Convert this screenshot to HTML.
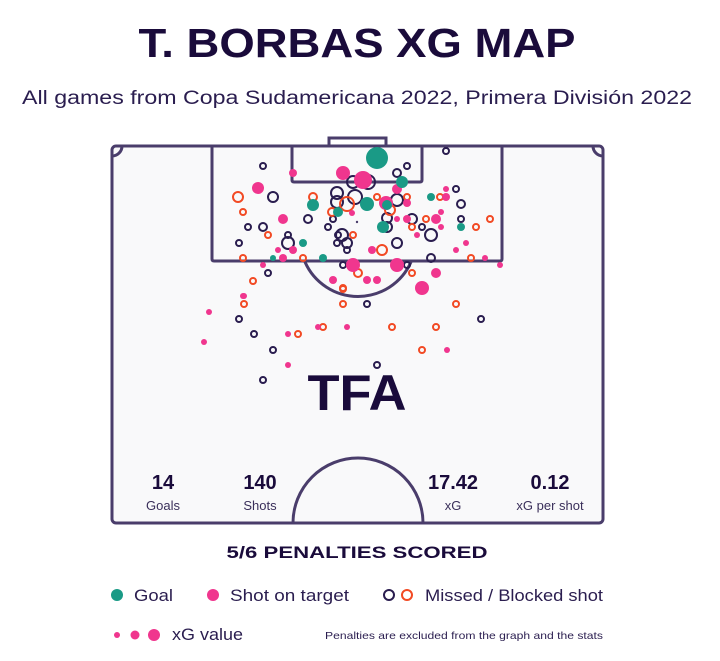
<!DOCTYPE html>
<html><head><meta charset="utf-8"><style>
html,body{margin:0;padding:0;background:#fff;}
svg{display:block;font-family:"Liberation Sans",sans-serif;}
</style></head><body>
<svg width="720" height="661" viewBox="0 0 720 661" xmlns="http://www.w3.org/2000/svg">
<text x="357" y="57" text-anchor="middle" font-size="41" font-weight="bold" fill="#1a0b3b" textLength="437" lengthAdjust="spacingAndGlyphs">T. BORBAS XG MAP</text>
<text x="357" y="104" text-anchor="middle" font-size="19" fill="#2a1d4f" textLength="670" lengthAdjust="spacingAndGlyphs">All games from Copa Sudamericana 2022, Primera División 2022</text>
<g fill="none" stroke="#4a3d6b" stroke-width="3">
<rect x="112" y="146" width="491" height="377" rx="4" fill="#f9f9fa"/>
<path d="M329 146 V138 H386 V146"/>
<path d="M212 146 V259 Q212 261 214 261 H500 Q502 261 502 259 V146"/>
<path d="M292 146 V180 Q292 182 294 182 H420 Q422 182 422 180 V146"/>
<path d="M305 262 A58 58 0 0 0 411 262"/>
<path d="M293 523 A65 65 0 0 1 423 523"/>
<path d="M112 156 A10 10 0 0 0 122 146"/>
<path d="M593 146 A10 10 0 0 0 603 156"/>
</g>
<circle cx="357" cy="222" r="1.2" fill="#4a3d6b"/>
<g stroke="#2a1d4f" stroke-width="2" fill="none">
<circle cx="446" cy="151" r="3"/><circle cx="263" cy="166" r="3"/><circle cx="407" cy="166" r="3"/><circle cx="397" cy="173" r="4"/>
<circle cx="368" cy="182" r="7"/><circle cx="353" cy="182" r="6"/><circle cx="337" cy="193" r="6"/><circle cx="355" cy="197" r="7"/>
<circle cx="337" cy="202" r="6"/><circle cx="273" cy="197" r="5"/><circle cx="456" cy="189" r="3"/><circle cx="461" cy="204" r="4"/>
<circle cx="397" cy="200" r="6"/><circle cx="308" cy="219" r="4"/><circle cx="333" cy="219" r="3"/><circle cx="387" cy="218" r="5"/>
<circle cx="412" cy="219" r="5"/><circle cx="461" cy="219" r="3"/><circle cx="248" cy="227" r="3"/><circle cx="263" cy="227" r="4"/>
<circle cx="328" cy="227" r="3"/><circle cx="387" cy="227" r="5"/><circle cx="422" cy="227" r="3"/><circle cx="288" cy="235" r="3"/>
<circle cx="288" cy="243" r="6"/><circle cx="342" cy="235" r="6"/><circle cx="347" cy="243" r="5"/><circle cx="338" cy="235" r="3"/>
<circle cx="239" cy="243" r="3"/><circle cx="337" cy="243" r="3"/><circle cx="397" cy="243" r="5"/><circle cx="431" cy="235" r="6"/>
<circle cx="347" cy="250" r="3"/><circle cx="431" cy="258" r="4"/><circle cx="343" cy="265" r="3"/><circle cx="268" cy="273" r="3"/>
<circle cx="407" cy="265" r="3"/><circle cx="239" cy="319" r="3"/><circle cx="254" cy="334" r="3"/><circle cx="367" cy="304" r="3"/>
<circle cx="481" cy="319" r="3"/><circle cx="273" cy="350" r="3"/><circle cx="263" cy="380" r="3"/><circle cx="377" cy="365" r="3"/>
</g>
<g stroke="#f24a24" stroke-width="2" fill="none">
<circle cx="238" cy="197" r="5"/><circle cx="243" cy="212" r="3"/><circle cx="313" cy="197" r="4"/><circle cx="347" cy="204" r="7"/>
<circle cx="332" cy="212" r="4"/><circle cx="377" cy="197" r="3"/><circle cx="407" cy="197" r="3"/><circle cx="440" cy="197" r="3"/>
<circle cx="426" cy="219" r="3"/><circle cx="412" cy="227" r="3"/><circle cx="476" cy="227" r="3"/><circle cx="490" cy="219" r="3"/>
<circle cx="268" cy="235" r="3"/><circle cx="353" cy="235" r="3"/><circle cx="382" cy="250" r="5"/><circle cx="243" cy="258" r="3"/>
<circle cx="303" cy="258" r="3"/><circle cx="471" cy="258" r="3"/><circle cx="358" cy="273" r="4"/><circle cx="412" cy="273" r="3"/>
<circle cx="253" cy="281" r="3"/><circle cx="343" cy="288" r="3"/><circle cx="390" cy="210" r="5"/>
<circle cx="244" cy="304" r="3"/><circle cx="298" cy="334" r="3"/><circle cx="323" cy="327" r="3"/><circle cx="392" cy="327" r="3"/>
<circle cx="436" cy="327" r="3"/><circle cx="343" cy="304" r="3"/><circle cx="456" cy="304" r="3"/><circle cx="343" cy="289" r="3"/>
<circle cx="422" cy="350" r="3"/>
</g>
<g fill="#f0368e">
<circle cx="343" cy="173" r="7"/><circle cx="363" cy="180" r="9"/><circle cx="293" cy="173" r="4"/><circle cx="258" cy="188" r="6"/>
<circle cx="397" cy="189" r="5"/><circle cx="407" cy="203" r="4"/><circle cx="386" cy="203" r="7"/><circle cx="446" cy="197" r="4"/>
<circle cx="446" cy="189" r="3"/><circle cx="441" cy="212" r="3"/><circle cx="436" cy="219" r="5"/><circle cx="441" cy="227" r="3"/>
<circle cx="283" cy="219" r="5"/><circle cx="407" cy="219" r="4"/><circle cx="397" cy="219" r="3"/><circle cx="417" cy="235" r="3"/>
<circle cx="466" cy="243" r="3"/><circle cx="456" cy="250" r="3"/><circle cx="278" cy="250" r="3"/><circle cx="293" cy="250" r="4"/>
<circle cx="283" cy="258" r="4"/><circle cx="372" cy="250" r="4"/><circle cx="353" cy="265" r="7"/><circle cx="397" cy="265" r="7"/>
<circle cx="436" cy="273" r="5"/><circle cx="422" cy="288" r="7"/><circle cx="367" cy="280" r="4"/><circle cx="377" cy="280" r="4"/>
<circle cx="333" cy="280" r="4"/><circle cx="263" cy="265" r="3"/><circle cx="243" cy="296" r="3"/><circle cx="485" cy="258" r="3"/>
<circle cx="500" cy="265" r="3"/><circle cx="352" cy="213" r="3"/>
<circle cx="244" cy="296" r="3"/><circle cx="209" cy="312" r="3"/><circle cx="204" cy="342" r="3"/><circle cx="288" cy="334" r="3"/>
<circle cx="318" cy="327" r="3"/><circle cx="347" cy="327" r="3"/><circle cx="288" cy="365" r="3"/><circle cx="447" cy="350" r="3"/>
</g>
<g fill="#1a9a86">
<circle cx="377" cy="158" r="11"/><circle cx="402" cy="182" r="6"/><circle cx="313" cy="205" r="6"/><circle cx="367" cy="204" r="7"/>
<circle cx="338" cy="212" r="5"/><circle cx="387" cy="205" r="5"/><circle cx="431" cy="197" r="4"/><circle cx="461" cy="227" r="4"/>
<circle cx="303" cy="243" r="4"/><circle cx="383" cy="227" r="6"/><circle cx="273" cy="258" r="3"/><circle cx="323" cy="258" r="4"/>
</g>
<text x="357" y="410" text-anchor="middle" font-size="50" font-weight="bold" fill="#1a0b3b" textLength="99" lengthAdjust="spacingAndGlyphs">TFA</text>
<g text-anchor="middle" fill="#1a0b3b" font-weight="bold" font-size="20">
<text x="163" y="489">14</text><text x="260" y="489">140</text><text x="453" y="489">17.42</text><text x="550" y="489">0.12</text>
</g>
<g text-anchor="middle" fill="#3a2f5a" font-size="13">
<text x="163" y="510">Goals</text><text x="260" y="510">Shots</text><text x="453" y="510">xG</text><text x="550" y="510">xG per shot</text>
</g>
<text x="357" y="558" text-anchor="middle" font-size="17" font-weight="bold" fill="#1a0b3b" textLength="261" lengthAdjust="spacingAndGlyphs">5/6 PENALTIES SCORED</text>
<circle cx="117" cy="595" r="6" fill="#1a9a86"/>
<text x="134" y="601" font-size="17" fill="#2a1d4f" textLength="39" lengthAdjust="spacingAndGlyphs">Goal</text>
<circle cx="213" cy="595" r="6" fill="#f0368e"/>
<text x="230" y="601" font-size="17" fill="#2a1d4f" textLength="119" lengthAdjust="spacingAndGlyphs">Shot on target</text>
<circle cx="389" cy="595" r="5" fill="none" stroke="#2a1d4f" stroke-width="2"/>
<circle cx="407" cy="595" r="5" fill="none" stroke="#f24a24" stroke-width="2"/>
<text x="425" y="601" font-size="17" fill="#2a1d4f" textLength="178" lengthAdjust="spacingAndGlyphs">Missed / Blocked shot</text>
<circle cx="117" cy="635" r="3" fill="#f0368e"/>
<circle cx="135" cy="635" r="4.5" fill="#f0368e"/>
<circle cx="154" cy="635" r="6" fill="#f0368e"/>
<text x="172" y="640" font-size="17" fill="#2a1d4f" textLength="71" lengthAdjust="spacingAndGlyphs">xG value</text>
<text x="325" y="639" font-size="10.5" fill="#2a1d4f" textLength="278" lengthAdjust="spacingAndGlyphs">Penalties are excluded from the graph and the stats</text>
</svg>
</body></html>
